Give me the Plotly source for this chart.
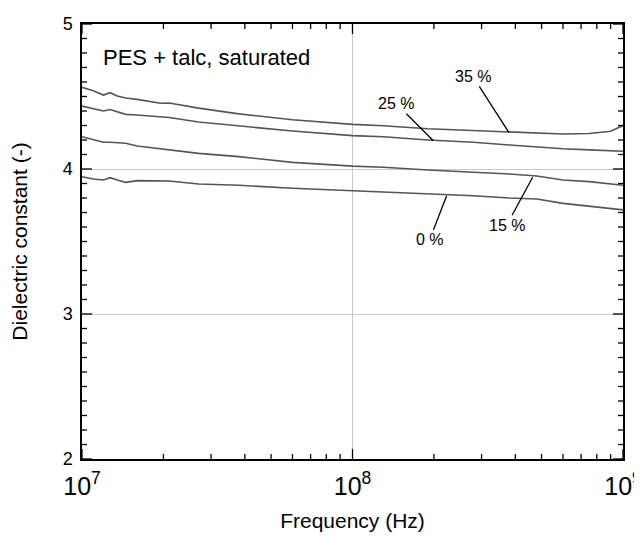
import plotly.graph_objects as go

# frequency (Hz) shared by all curves
freq = [1.0e7, 1.1e7, 1.2e7, 1.27e7, 1.35e7, 1.45e7, 1.6e7, 1.95e7, 2.1e7, 2.7e7,
        3.8e7, 6.0e7, 1.0e8, 1.3e8, 1.9e8, 2.8e8, 3.8e8, 4.8e8, 6.0e8, 7.5e8,
        9.0e8, 1.0e9]

# dielectric constant per talc content
eps_35 = [4.563, 4.54, 4.51, 4.526, 4.503, 4.49, 4.48, 4.453, 4.455, 4.42,
          4.38, 4.34, 4.308, 4.298, 4.278, 4.264, 4.253, 4.246, 4.241, 4.245,
          4.26, 4.30]
eps_25 = [4.434, 4.418, 4.40, 4.41, 4.395, 4.377, 4.372, 4.36, 4.355, 4.324,
          4.297, 4.262, 4.23, 4.222, 4.20, 4.184, 4.166, 4.152, 4.14, 4.132,
          4.125, 4.122]
eps_15 = [4.223, 4.205, 4.184, 4.184, 4.18, 4.178, 4.159, 4.14, 4.136, 4.108,
          4.085, 4.046, 4.02, 4.012, 3.993, 3.979, 3.966, 3.952, 3.924, 3.913,
          3.90, 3.888]
eps_0 = [3.947, 3.931, 3.924, 3.94, 3.924, 3.908, 3.92, 3.918, 3.917, 3.897,
         3.888, 3.867, 3.85, 3.844, 3.828, 3.816, 3.80, 3.793, 3.763, 3.745,
         3.731, 3.718]

series = [("35 %", eps_35), ("25 %", eps_25), ("15 %", eps_15), ("0 %", eps_0)]

# label anchors on the curves: (log10 f, value, text offset x, offset y)
labels = {
    "35 %": (8.578, 4.253, -36, -56),
    "25 %": (8.299, 4.195, -37, -37),
    "15 %": (8.666, 3.943, -26, 48),
    "0 %": (8.348, 3.816, -17, 44),
}

# tick positions (major / minor)
x_major = [1e7, 1e8, 1e9]
x_minor = [m * d for d in (1e7, 1e8) for m in range(2, 10)]
y_major = [2, 3, 4, 5]
y_minor = [round(2 + i / 10, 1) for i in range(1, 30) if i % 10]

FONT = "Liberation Sans, Arial, Helvetica, sans-serif"
LINE = "#555555"

fig = go.Figure()
for name, vals in series:
    fig.add_trace(go.Scatter(x=freq, y=vals, mode="lines", name=name,
                             line=dict(color=LINE, width=1.6), showlegend=False))

for name, (lx, ly, ax, ay) in labels.items():
    fig.add_annotation(x=lx, y=ly, text=name, showarrow=True, arrowhead=0,
                       arrowwidth=1.3, arrowcolor="black", ax=ax, ay=ay,
                       font=dict(size=16, color="black", family=FONT))

fig.add_annotation(x=0.035, y=0.922, xref="paper", yref="paper", xanchor="left",
                   yanchor="middle", text="PES + talc, saturated", showarrow=False,
                   font=dict(size=22, color="black", family=FONT))

# inward tick marks on all four sides, drawn as pixel-sized shapes
tick_line = dict(color="black", width=1.3)
for vals, length in [(x_major, 10), (x_minor, 5)]:
    for v in vals:
        for anchor, sign in [(0, 1), (1, -1)]:
            fig.add_shape(type="line", xref="x", yref="paper", x0=v, x1=v,
                          ysizemode="pixel", yanchor=anchor, y0=0, y1=sign * length,
                          line=tick_line)
for vals, length in [(y_major, 10), (y_minor, 5)]:
    for v in vals:
        for anchor, sign in [(0, 1), (1, -1)]:
            fig.add_shape(type="line", yref="y", xref="paper", y0=v, y1=v,
                          xsizemode="pixel", xanchor=anchor, x0=0, x1=sign * length,
                          line=tick_line)

fig.update_xaxes(
    type="log", range=[7, 9], dtick=1, exponentformat="power", automargin=False,
    showline=True, linecolor="black", linewidth=1.5, mirror=True, ticks="",
    showgrid=True, gridcolor="#c8c8c8", gridwidth=1, zeroline=False,
    tickfont=dict(size=20, color="black", family=FONT), ticklabeloverflow="allow",
    ticklabelstandoff=5,
    title=dict(text="Frequency (Hz)", font=dict(size=21, color="black", family=FONT),
               standoff=15),
)
fig.update_yaxes(
    range=[2, 5], dtick=1, automargin=False,
    showline=True, linecolor="black", linewidth=1.5, mirror=True, ticks="",
    showgrid=True, gridcolor="#c8c8c8", gridwidth=1, zeroline=False,
    tickfont=dict(size=18, color="black", family=FONT), ticklabelstandoff=4,
    title=dict(text="Dielectric constant (-)", font=dict(size=21, color="black", family=FONT),
               standoff=34),
)

# page body adds an 8 px offset, so the figure is kept smaller
fig.update_layout(
    width=634, height=528,
    margin=dict(l=74, r=19, t=16, b=77),
    plot_bgcolor="white", paper_bgcolor="white",
    font=dict(family=FONT, color="black"),
)

fig.write_html("out.html")
